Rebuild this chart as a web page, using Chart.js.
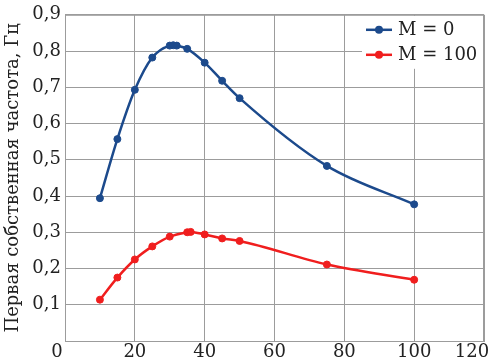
<!DOCTYPE html>
<html>
<head>
<meta charset="utf-8">
<script src="https://cdn.jsdelivr.net/npm/chart.js@4"></script>
<style>
  html, body { margin: 0; padding: 0; background: #fff; }
  #wrap { width: 489px; height: 361px; }
</style>
</head>
<body>
<div id="wrap"><canvas id="freq"></canvas></div>
<script>
const xM0 = [10, 15, 20, 25, 30, 31, 32, 35, 40, 45, 50, 75, 100]
const yM0 = [0.394, 0.557, 0.693, 0.782, 0.815, 0.816, 0.815, 0.806, 0.768, 0.718, 0.670, 0.483, 0.377]
const xM100 = [10, 15, 20, 25, 30, 35, 36, 40, 45, 50, 75, 100]
const yM100 = [0.114, 0.175, 0.225, 0.261, 0.288, 0.300, 0.301, 0.294, 0.283, 0.276, 0.211, 0.169]
const seriesLabels = ['M = 0', 'M = 100']
const yTitle = 'Первая собственная частота, Гц'

const blue = '#1c4a8c'
const red = '#f01e1e'
const grey = '#9c9c9c'
const serif = "'DejaVu Serif', serif"

const toPoints = (xs, ys) => xs.map((x, i) => ({ x, y: ys[i] }))

// legend drawn inside the plot, top right, over a white patch
const boxLegend = {
  id: 'boxLegend',
  afterDraw(chart) {
    const { ctx, chartArea } = chart
    const right = chartArea.right
    const top = chartArea.top
    ctx.save()
    ctx.fillStyle = '#fff'
    ctx.fillRect(right - 122, top + 1, 121, 53)
    chart.data.datasets.forEach((ds, i) => {
      const y = top + 15 + i * 25
      const x0 = right - 118
      ctx.strokeStyle = ds.borderColor
      ctx.lineWidth = 2.5
      ctx.beginPath()
      ctx.moveTo(x0, y)
      ctx.lineTo(x0 + 26, y)
      ctx.stroke()
      ctx.fillStyle = ds.borderColor
      ctx.beginPath()
      ctx.arc(x0 + 13, y, 4, 0, Math.PI * 2)
      ctx.fill()
      ctx.fillStyle = '#222'
      ctx.font = '18px ' + serif
      ctx.textBaseline = 'middle'
      ctx.textAlign = 'left'
      ctx.fillText(ds.label, x0 + 32, y + 1)
    })
    ctx.restore()
  },
}

// frame + x tick labels (first and last nudged inward like the original)
const frameAndXLabels = {
  id: 'frameAndXLabels',
  afterDraw(chart) {
    const { ctx, chartArea: a, scales } = chart
    ctx.save()
    ctx.strokeStyle = grey
    ctx.lineWidth = 1
    ctx.strokeRect(a.left + 0.5, a.top + 0.5, a.right - a.left - 1, a.bottom - a.top)
    ctx.fillStyle = '#222'
    ctx.font = '18px ' + serif
    ctx.textAlign = 'center'
    ctx.textBaseline = 'top'
    const ticks = scales.x.ticks
    ticks.forEach((t, i) => {
      let px = scales.x.getPixelForValue(t.value)
      if (i === 0) px -= 8
      if (i === ticks.length - 1) px -= 12
      ctx.fillText(String(t.value), px, a.bottom + 2)
    })
    ctx.restore()
  },
}

const ctxFreq = document.getElementById('freq').getContext('2d')

const freqChart = new Chart(ctxFreq, {
  type: 'line',
  data: {
    datasets: [
      {
        label: seriesLabels[0],
        data: toPoints(xM0, yM0),
        borderColor: blue,
        backgroundColor: blue,
        borderWidth: 2.5,
        pointRadius: 3.5,
        pointBorderWidth: 1,
        cubicInterpolationMode: 'monotone',
      },
      {
        label: seriesLabels[1],
        data: toPoints(xM100, yM100),
        borderColor: red,
        backgroundColor: red,
        borderWidth: 2.5,
        pointRadius: 3.5,
        pointBorderWidth: 1,
        cubicInterpolationMode: 'monotone',
      },
    ],
  },
  options: {
    responsive: true,
    maintainAspectRatio: false,
    animation: false,
    layout: { padding: { top: 10, right: 4, left: 0, bottom: 0 } },
    plugins: {
      legend: { display: false },
      tooltip: { enabled: false },
    },
    scales: {
      x: {
        type: 'linear',
        min: 0,
        max: 120,
        ticks: { stepSize: 20, display: false },
        grid: { color: grey, lineWidth: 1, drawTicks: false },
        border: { color: grey },
        afterFit: s => {
          s.height = 20
          s.paddingLeft = 0
          s.paddingRight = 0
        },
      },
      y: {
        min: 0,
        max: 0.9,
        ticks: {
          stepSize: 0.1,
          color: '#222',
          font: { family: serif, size: 18 },
          padding: 4,
          callback: v => (v === 0 ? '' : v.toFixed(1).replace('.', ',')),
        },
        grid: { color: grey, lineWidth: 1, drawTicks: false },
        border: { color: grey },
        title: {
          display: true,
          text: yTitle,
          color: '#222',
          font: { family: serif, size: 18 },
          padding: { top: 3, bottom: 1 },
        },
        afterFit: s => { s.width = 65 },
      },
    },
  },
  plugins: [boxLegend, frameAndXLabels],
})
</script>
</body>
</html>
